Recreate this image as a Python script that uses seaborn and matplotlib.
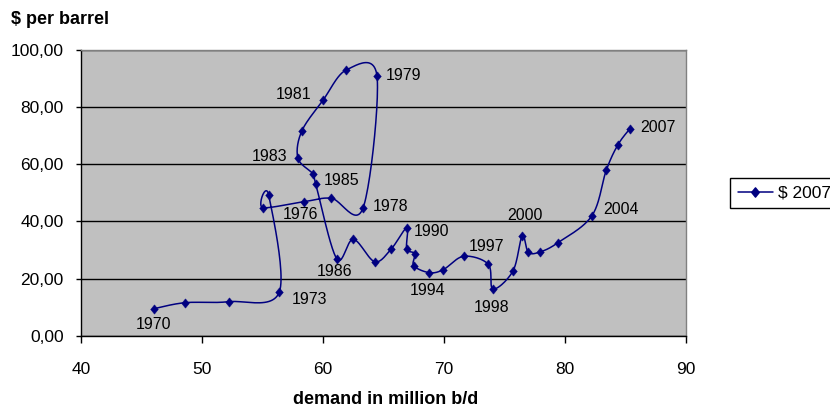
import numpy as np
import pandas as pd
import matplotlib
matplotlib.use("Agg")
import matplotlib.pyplot as plt
from matplotlib.path import Path
from matplotlib.markers import MarkerStyle
from matplotlib.lines import Line2D
import seaborn as sns

# ---------------- data ----------------
years = list(range(1970, 2008))
demand = [46.03, 48.60, 52.21, 56.39, 55.51, 55.02, 58.45, 60.69, 63.31, 64.46,
          61.93, 60.00, 58.24, 57.93, 59.20, 59.40, 61.13, 62.50, 64.27, 65.64,
          66.92, 66.92, 67.58, 67.50, 68.79, 69.94, 71.63, 73.66, 74.05, 75.70,
          76.47, 76.97, 77.93, 79.42, 82.23, 83.41, 84.38, 85.37]
price = [9.54, 11.64, 11.99, 15.37, 49.27, 44.83, 46.93, 48.11, 44.72, 90.85,
         92.94, 82.35, 71.52, 62.09, 56.50, 53.11, 27.01, 33.79, 25.96, 30.40,
         37.74, 30.40, 28.76, 24.56, 22.12, 23.17, 27.85, 25.05, 16.42, 22.71,
         35.05, 29.25, 29.35, 32.60, 42.03, 57.90, 66.84, 72.43]
labelled_years = [1970, 1973, 1976, 1978, 1979, 1981, 1983, 1985, 1986, 1990,
                  1994, 1997, 1998, 2000, 2004, 2007]
y_ticks = [0, 20, 40, 60, 80, 100]
x_ticks = [40, 50, 60, 70, 80, 90]
series_name = "$ 2007"
x_title = "demand in million b/d"
y_title = "$ per barrel"

# label placement (offset in pixels, horizontal alignment)
label_offsets = {
    1970: (0, -16, "center"), 1973: (12, -8, "left"), 1976: (-4, -13, "center"),
    1978: (10, 1, "left"), 1979: (9, 0, "left"), 1981: (-12, 6, "right"),
    1983: (-11, 2, "right"), 1985: (8, 3, "left"), 1986: (-2, -13, "center"),
    1990: (7, -4, "left"), 1994: (-1.5, -18, "center"), 1997: (-1.6, 17.7, "center"),
    1998: (-1, -19, "center"), 2000: (3, 20, "center"), 2004: (11, 6, "left"),
    2007: (10, 1, "left"),
}

df = pd.DataFrame({"year": years, "demand": demand, "price": price})


def smooth_curve(x, y, n=24):
    """Excel-like smoothed line (Catmull-Rom as cubic Bezier)."""
    p = np.column_stack([x, y]).astype(float)
    out = []
    m = len(p)
    for i in range(m - 1):
        p0 = p[i - 1] if i > 0 else p[i]
        p1 = p[i]
        p2 = p[i + 1]
        p3 = p[i + 2] if i + 2 < m else p[i + 1]
        c1 = p1 + (p2 - p0) / 6.0
        c2 = p2 - (p3 - p1) / 6.0
        t = np.linspace(0, 1, n, endpoint=(i == m - 2))[:, None]
        seg = ((1 - t) ** 3) * p1 + 3 * ((1 - t) ** 2) * t * c1 + 3 * (1 - t) * t ** 2 * c2 + t ** 3 * p2
        out.append(seg)
    out = np.vstack(out)
    return out[:, 0], out[:, 1]


# ---------------- style ----------------
sns.set_style("white")
plt.rcParams["font.family"] = ["Liberation Sans", "DejaVu Sans"]
plt.rcParams["text.color"] = "black"

navy = "#000080"
diamond = MarkerStyle(Path([(0, 1), (0.82, 0), (0, -1), (-0.82, 0), (0, 1)],
                           [Path.MOVETO, Path.LINETO, Path.LINETO, Path.LINETO, Path.CLOSEPOLY]))

W, H = 830, 408
fig = plt.figure(figsize=(W / 100, H / 100), dpi=100)
fig.patch.set_facecolor("white")
ax = fig.add_axes([81 / W, (H - 336) / H, (686 - 81) / W, (336 - 49.7) / H])
ax.set_facecolor("#C0C0C0")

sx, sy = smooth_curve(df["demand"].values, df["price"].values)
sns.lineplot(x=sx, y=sy, sort=False, estimator=None, color=navy, lw=1.1, ax=ax, legend=False)
sns.scatterplot(data=df, x="demand", y="price", marker=diamond, s=45, color=navy,
                edgecolor=navy, linewidth=0.3, ax=ax, legend=False, zorder=3)

for yr in labelled_years:
    i = years.index(yr)
    dx, dy, ha = label_offsets[yr]
    ax.annotate(str(yr), (demand[i], price[i]), xytext=(dx, dy), textcoords="offset pixels",
                ha=ha, va="center", fontsize=11.5, color="black")

ax.set_xlim(x_ticks[0], x_ticks[-1])
ax.set_ylim(y_ticks[0], y_ticks[-1])
ax.set_xticks(x_ticks)
ax.set_yticks(y_ticks)
ax.set_xticklabels([str(v) for v in x_ticks])
ax.set_yticklabels([f"{v:.2f}".replace(".", ",") for v in y_ticks])
ax.tick_params(axis="x", direction="out", length=5, width=1, pad=13.5, labelsize=12.5,
               colors="black", bottom=True)
ax.tick_params(axis="y", direction="out", length=3.6, width=1, pad=9, labelsize=12.5,
               colors="black", left=True)
ax.set_xlabel("")
ax.set_ylabel("")

ax.set_axisbelow(True)
ax.yaxis.grid(True, color="black", lw=1)
ax.xaxis.grid(False)
for side in ["left", "bottom"]:
    ax.spines[side].set_color("black")
    ax.spines[side].set_linewidth(1)
for side in ["top", "right"]:
    ax.spines[side].set_color("#808080")
    ax.spines[side].set_linewidth(1)

fig.text(11 / W, 1 - 20 / H, y_title, ha="left", va="center", fontsize=13,
         fontweight="bold", color="black")
fig.text(385.5 / W, 1 - 399 / H, x_title, ha="center", va="center", fontsize=13,
         fontweight="bold", color="black")

handle = Line2D([], [], color=navy, lw=1.1, marker=diamond, markersize=6.7,
                markeredgecolor=navy, markerfacecolor=navy)
leg = fig.legend([handle], [series_name], loc="center left",
                 bbox_to_anchor=(730 / W, 1 - 193 / H), bbox_transform=fig.transFigure,
                 frameon=True, fancybox=False, framealpha=1, edgecolor="black",
                 fontsize=12.5, borderpad=0.45, handlelength=2.0, handletextpad=0.3,
                 borderaxespad=0)
leg.get_frame().set_linewidth(1.0)
for t in leg.get_texts():
    t.set_color("black")

fig.savefig("out.png", dpi=100)
